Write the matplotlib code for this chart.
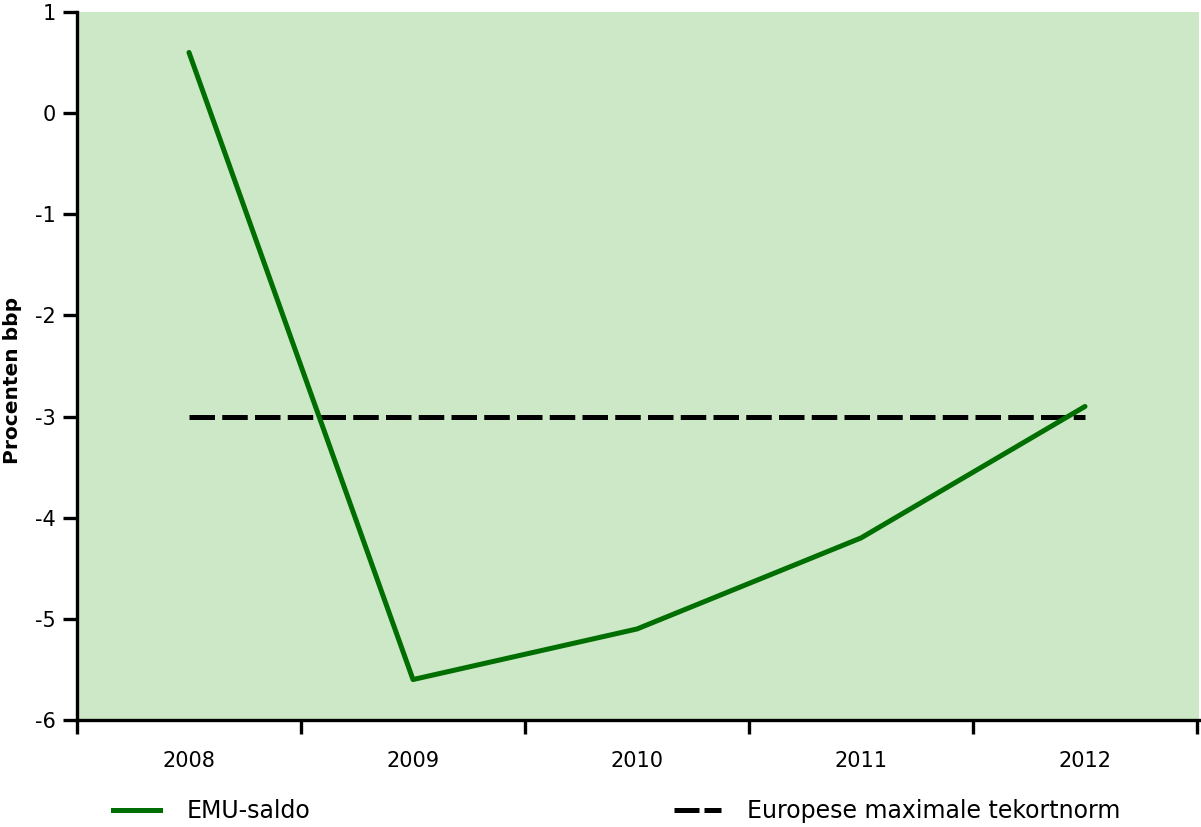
import matplotlib
matplotlib.use("Agg")
import matplotlib.pyplot as plt
from matplotlib.lines import Line2D
import numpy as np

years = ["2008", "2009", "2010", "2011", "2012"]
emu_saldo = [0.6, -5.6, -5.1, -4.2, -2.9]
norm = [-3, -3, -3, -3, -3]
y_ticks = [1, 0, -1, -2, -3, -4, -5, -6]

plt.rcParams['font.family'] = ['DejaVu Sans']

W, H = 1201, 827
fig = plt.figure(figsize=(W / 100, H / 100), dpi=100)
ax = fig.add_axes([77 / W, 1 - 720 / H, (1199 - 77) / W, (720 - 12) / H])
ax.set_facecolor('#cce8c6')

green = '#006e00'
x = np.arange(len(years))
ax.plot(x, norm, color='black', lw=3.6, dashes=(5.1, 1.45), zorder=2)
ax.plot(x, emu_saldo, color=green, lw=3.6, solid_capstyle='round', zorder=3)

ax.set_xlim(-0.5, 4.5 + 2 / 224)
ax.set_ylim(-6, 1)
ax.set_yticks(y_ticks)
ax.set_yticklabels([str(v) for v in y_ticks])
ax.set_xticks(x)
ax.set_xticklabels(years)
ax.set_xticks(np.arange(-0.5, 4.6, 1.0), minor=True)

for s in ['top', 'right']:
    ax.spines[s].set_visible(False)
for s in ['left', 'bottom']:
    ax.spines[s].set_linewidth(2.4)

ax.tick_params(axis='y', direction='out', length=10, width=2.4, labelsize=15, pad=5)
ax.tick_params(axis='x', which='major', length=0, labelsize=15, pad=22)
ax.tick_params(axis='x', which='minor', direction='out', length=10, width=2.4)

ax.set_ylabel('Procenten bbp', fontsize=14.5, fontweight='bold')
ax.yaxis.set_label_coords((22 - 77) / (1199 - 77), 1 - (380 - 12) / 708)

h1 = [Line2D([0], [0], color=green, lw=3.6)]
h2 = [Line2D([0], [0], color='black', lw=3.6, dashes=(5.0, 1.0))]
leg1 = fig.legend(h1, ['EMU-saldo'], loc='center left', bbox_to_anchor=(113 / W, 1 - 811 / H),
                  frameon=False, fontsize=17, handlelength=2.0, handletextpad=1.1,
                  borderpad=0, borderaxespad=0)
leg2 = fig.legend(h2, ['Europese maximale tekortnorm'], loc='center left',
                  bbox_to_anchor=(674 / W, 1 - 811 / H),
                  frameon=False, fontsize=17, handlelength=2.0, handletextpad=1.1,
                  borderpad=0, borderaxespad=0)

fig.savefig('out.png', dpi=100)
